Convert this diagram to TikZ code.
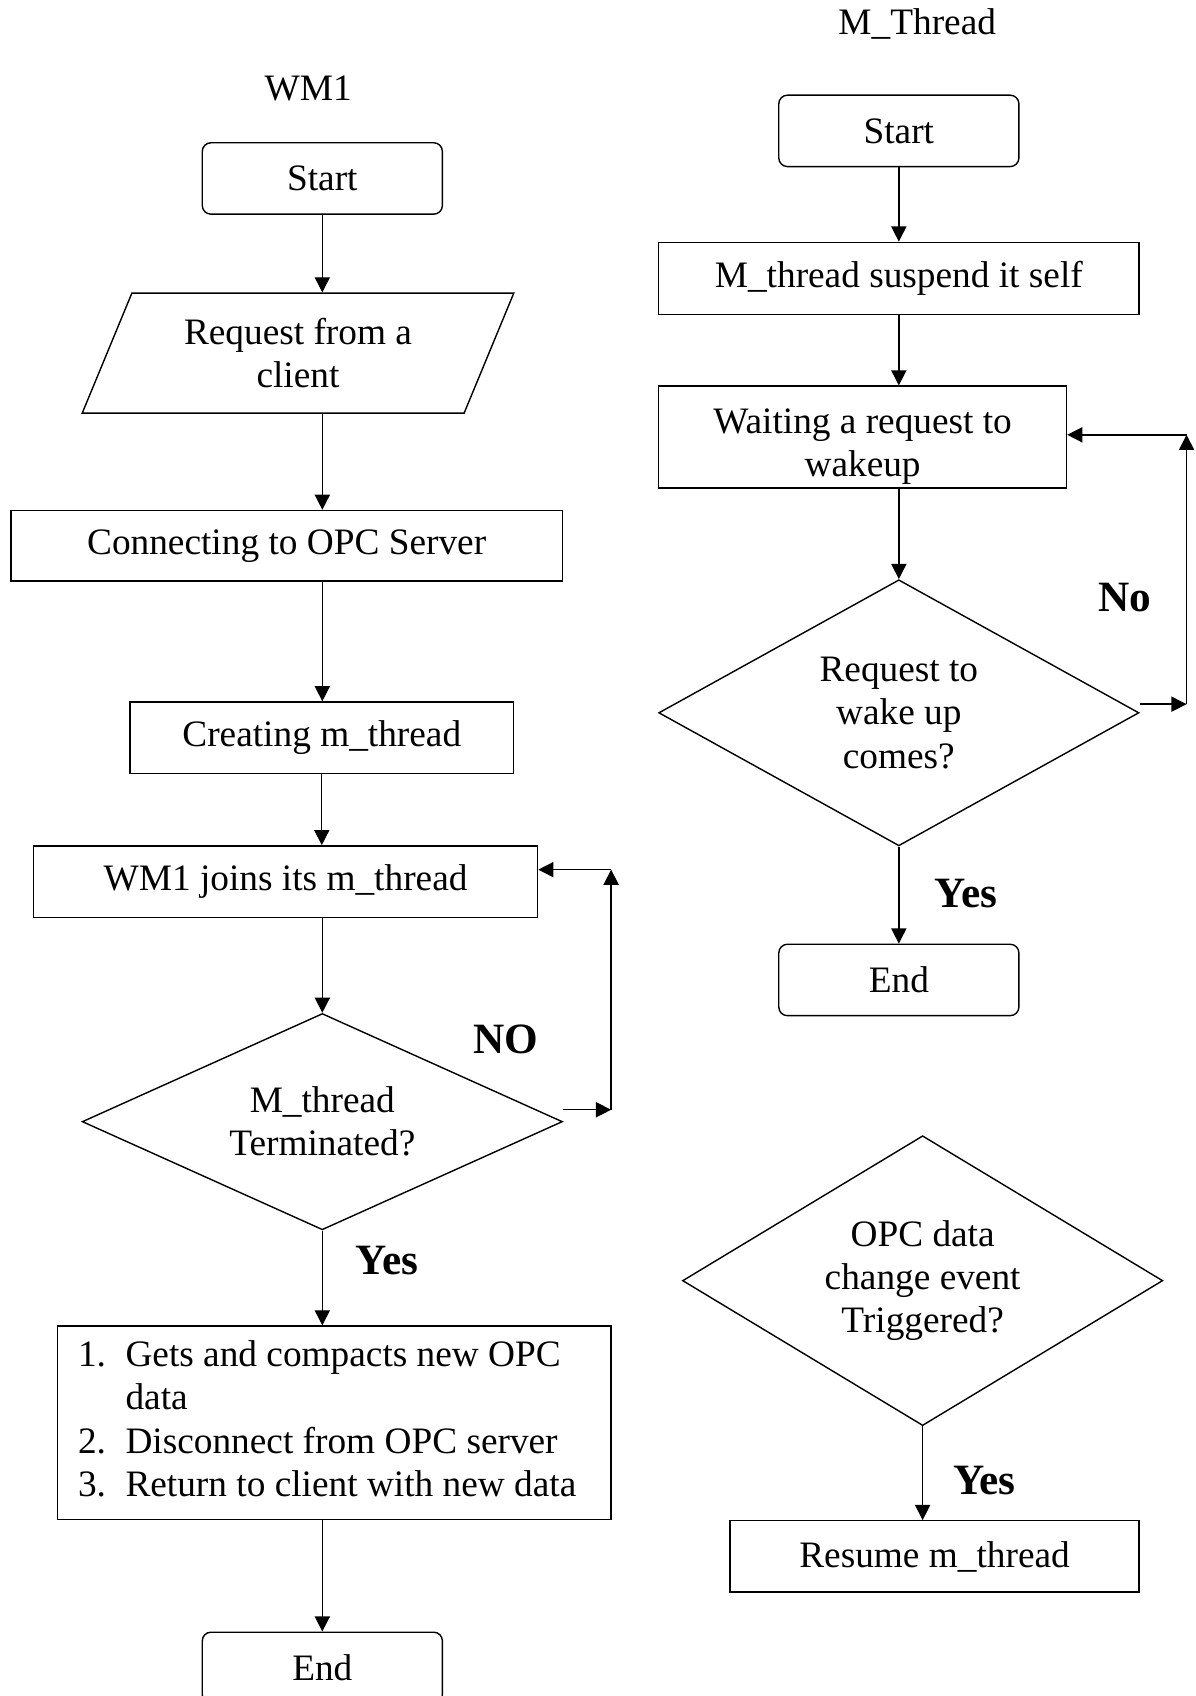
\documentclass[tikz,border=0pt]{standalone}
\usepackage{fontspec}
\setmainfont{Liberation Serif}
\usetikzlibrary{arrows.meta,shapes.geometric,calc}

\tikzset{
  box/.style={draw, line width=1.3pt, inner sep=0pt, align=center},
  term/.style={box, rounded corners=8pt, minimum width=222pt, minimum height=66pt},
  decide/.style={draw, diamond, aspect=2, line width=1.3pt, inner sep=0pt,
    align=center, minimum width=444pt},
  flow/.style={line width=1.3pt, -{Triangle[length=14pt,width=14pt]}},
  ans/.style={font=\fontsize{40}{44}\selectfont\bfseries}
}

\begin{document}
\begin{tikzpicture}[x=1pt, y=-1pt, font=\fontsize{34.5}{40}\selectfont]
  \useasboundingbox (0,0) rectangle (1105,1568);

  % WM1 side
  \node (wmtitle) at (285,82) {WM1};
  \node[term] (start1) at (298,165) {Start};
  \node[box, trapezium, trapezium left angle=54.6, trapezium right angle=125.4,
    trapezium stretches body, minimum width=399pt, minimum height=111pt]
    (req) at (275.5,326.5) {Request from a\\client};
  \node[box, minimum width=510pt, minimum height=65pt] (conn) at (265,504.5) {Connecting to OPC Server};
  \node[box, minimum width=355pt, minimum height=66pt] (create) at (297.5,682) {Creating m\_thread};
  \node[box, minimum width=466pt, minimum height=66pt] (join) at (264,815) {WM1 joins its m\_thread};
  \node[decide, minimum height=200pt] (term1) at (298,1037) {M\_thread\\Terminated?};
  \node[draw, line width=1.3pt, inner sep=0pt, minimum width=512pt, minimum height=179pt]
    (steps) at (309,1315.5) {%
    \begin{tabular}{@{}l@{\hspace{18pt}}l@{\hspace{13pt}}}
      1. & Gets and compacts new OPC\\
         & data\\
      2. & Disconnect from OPC server\\
      3. & Return to client with new data
    \end{tabular}};
  \node[term] (end1) at (298,1542) {End};

  \node[ans] (no1) at (468,961) {NO};
  \node[ans] (yes1) at (358,1165) {Yes};

  \draw[flow] (start1) -- (start1 |- req.north);
  \draw[flow] (req.south -| start1) -- (start1 |- conn.north);
  \draw[flow] (start1 |- conn.south) -- (start1 |- create.north);
  \draw[flow] (create) -- (join.north -| create);
  \draw[flow] (join.south -| term1) -- (term1);
  \draw[flow] (term1) -- (steps.north -| term1);
  \draw[flow] (steps.south -| end1) -- (end1);

  \coordinate (loop1a) at (565,1026);
  \coordinate (loop1b) at (565,804);
  \draw[flow] ($(term1.east)+(0,-11)$) -- (loop1a);
  \draw[flow] (loop1a) -- (loop1b);
  \draw[flow] (loop1b) -- (loop1b -| join.east);

  % M_Thread side
  \node (mtitle) at (848,22) {M\_Thread};
  \node[term] (start2) at (831,121) {Start};
  \node[box, minimum width=444pt, minimum height=67pt] (suspend) at (831,257.5) {M\_thread suspend it self};
  \node[box, minimum width=377pt, minimum height=94pt] (wait) at (797.5,404) {\rule{0pt}{41pt}Waiting a request to\\wakeup};
  \node[decide, minimum height=246pt] (wake) at (831,659) {Request to\\wake up\\comes?};
  \node[term] (end2) at (831,906) {End};

  \node[ans] (no2) at (1040,552) {No};
  \node[ans] (yes2) at (893,826) {Yes};

  \draw[flow] (start2) -- (suspend);
  \draw[flow] (suspend.south) -- (suspend.south |- wait.north);
  \draw[flow] (wait.south -| wake) -- (wake);
  \draw[flow] (wake) -- (end2);

  \coordinate (loop2a) at (1097,651);
  \coordinate (loop2b) at (1097,402);
  \draw[flow] ($(wake.east)+(0,-8)$) -- (loop2a);
  \draw[flow] (loop2a) -- (loop2b);
  \draw[flow] (loop2b) -- (loop2b -| wait.east);

  % data change event
  \node[decide, minimum height=268pt] (event) at (853,1184) {OPC data\\change event\\Triggered?};
  \node[box, minimum width=378pt, minimum height=66pt] (resume) at (864,1439) {Resume m\_thread};
  \node[ans] (yes3) at (910,1369) {Yes};

  \draw[flow] (event) -- (resume.north -| event);
\end{tikzpicture}
\end{document}
